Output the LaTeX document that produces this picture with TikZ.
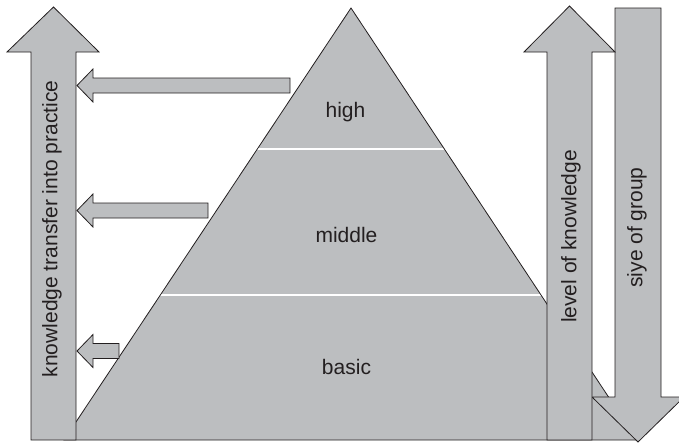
\documentclass[tikz,border=0pt]{standalone}
\usepackage{fontspec}
\setmainfont{Liberation Sans}
\usetikzlibrary{positioning}
\definecolor{pyrgray}{HTML}{BCBEC0}
\definecolor{inkgray}{HTML}{231F20}

\begin{document}
\begin{tikzpicture}[
x=1pt, y=-1pt,
block/.style={
fill=pyrgray,
draw=inkgray,
line width=0.8pt,
line join=miter
},
divider/.style={
white,
line width=1.6pt
},
word/.style={
font=\fontsize{21}{25}\selectfont,
text=inkgray,
inner sep=0pt
}
]
\clip (0,0) rectangle (679,445);

% pyramid
\coordinate (apex) at (351,8);
\coordinate (baseL) at (64,440);
\coordinate (baseR) at (637,440);
\fill[pyrgray] (apex) -- (baseR) -- (baseL) -- cycle;
\begin{scope}
\clip (apex) -- (baseR) -- (baseL) -- cycle;
\draw[divider] (0,149) -- (679,149);
\draw[divider] (0,295) -- (679,295);
\end{scope}
\draw[draw=inkgray, line width=0.8pt] (apex) -- (baseR) -- (baseL) -- cycle;

\node[word] (high) at (345.5,112.5) {high};
\node[word] (middle) at (346.5,234.5) {middle};
\node[word] (basic) at (346.5,367) {basic};

% transfer arrow
\draw[block] (31,440) -- (31,52) -- (7,52) -- (53.5,7) -- (99,52)
-- (76,52) -- (76,440) -- cycle;
\node[word, rotate=90] (transfer) at (52,229)
{knowledge transfer into practice};

% small arrows
\foreach \y/\xr in {85.5/290, 210.5/208, 351/119} {
\draw[block] (77,\y) -- (93,\y-16.5) -- (93,\y-7.5) -- (\xr,\y-7.5)
-- (\xr,\y+7.5) -- (93,\y+7.5) -- (93,\y+16.5) -- cycle;
}

% group arrow
\draw[block] (615,8) -- (661,8) -- (661,397) -- (684,397) -- (638,442)
-- (592,397) -- (615,397) -- cycle;
\node[word, rotate=90] (group) at (637,227.5) {siye of group};

% level arrow
\draw[block] (547,440) -- (547,52) -- (524,52) -- (569.5,6) -- (615,52)
-- (592,52) -- (592,440) -- cycle;
\node[word, rotate=90] (level) at (571,236.5) {level of knowledge};

\end{tikzpicture}
\end{document}
